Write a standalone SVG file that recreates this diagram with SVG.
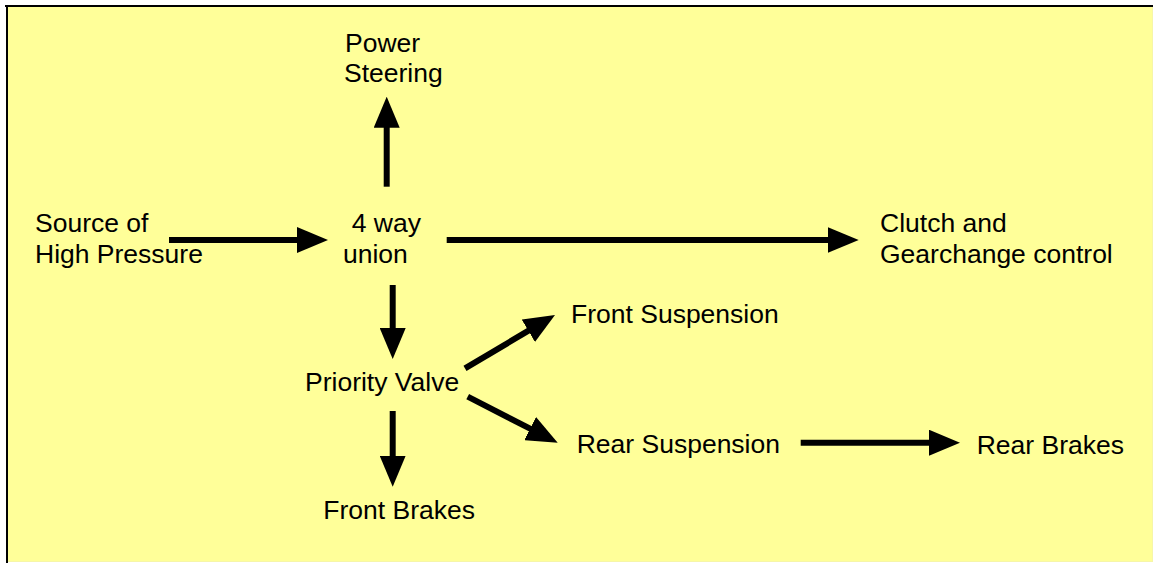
<svg xmlns="http://www.w3.org/2000/svg" width="1153" height="563" viewBox="0 0 1153 563">
<defs>
<style>
.t{font-family:"Liberation Sans",Arial,sans-serif;font-size:26.5px;fill:#000}
.c{stroke:#000;stroke-width:6;fill:none}
</style>
<marker id="ah" viewBox="-31 -13 31 26" markerUnits="userSpaceOnUse" markerWidth="31" markerHeight="26" refX="-20" refY="0" orient="auto">
<path d="M-31,-13 L0,0 L-31,13 Z" fill="#000"/>
</marker>
</defs>
<rect x="0" y="0" width="1153" height="563" fill="#fff"/>
<rect x="7" y="6" width="1146" height="556" fill="#FFFF99"/>
<line x1="1152.5" y1="6" x2="1152.5" y2="562" stroke="#f6f6a8" stroke-width="1"/>
<line x1="7" y1="561.5" x2="1153" y2="561.5" stroke="#f6f6a8" stroke-width="1"/>
<line x1="5" y1="6" x2="1153" y2="6" stroke="#000" stroke-width="2"/>
<line x1="7" y1="5" x2="7" y2="563" stroke="#000" stroke-width="2"/>
<g id="connectors">
<line class="c" x1="386.7" y1="186.7" x2="386.7" y2="116.7" marker-end="url(#ah)"/>
<line class="c" x1="169" y1="240" x2="308" y2="240" marker-end="url(#ah)"/>
<line class="c" x1="446.7" y1="240" x2="838.7" y2="240" marker-end="url(#ah)"/>
<line class="c" x1="392.7" y1="285" x2="392.7" y2="339" marker-end="url(#ah)"/>
<line class="c" x1="392.7" y1="411" x2="392.7" y2="466.7" marker-end="url(#ah)"/>
<line class="c" x1="465" y1="368.3" x2="537.8" y2="325.2" marker-end="url(#ah)"/>
<line class="c" x1="467.7" y1="396.7" x2="539.9" y2="433.6" marker-end="url(#ah)"/>
<line class="c" x1="800.7" y1="442.7" x2="940" y2="442.7" marker-end="url(#ah)"/>
</g>
<g id="power-steering"><text class="t" x="345" y="51.7">Power</text><text class="t" x="344" y="81.7">Steering</text></g>
<g id="source"><text class="t" x="35" y="231.7">Source of</text><text class="t" x="35" y="263">High Pressure</text></g>
<g id="union"><text class="t" x="351.7" y="231.7">4 way</text><text class="t" x="343" y="263">union</text></g>
<g id="clutch"><text class="t" x="880" y="231.7">Clutch and</text><text class="t" x="880" y="263.3">Gearchange control</text></g>
<g id="front-suspension"><text class="t" x="571" y="322.7">Front Suspension</text></g>
<g id="priority-valve"><text class="t" x="305" y="391">Priority Valve</text></g>
<g id="rear-suspension"><text class="t" x="576.7" y="453.3">Rear Suspension</text></g>
<g id="rear-brakes"><text class="t" x="976.7" y="454">Rear Brakes</text></g>
<g id="front-brakes"><text class="t" x="323.3" y="519.3">Front Brakes</text></g>
</svg>
